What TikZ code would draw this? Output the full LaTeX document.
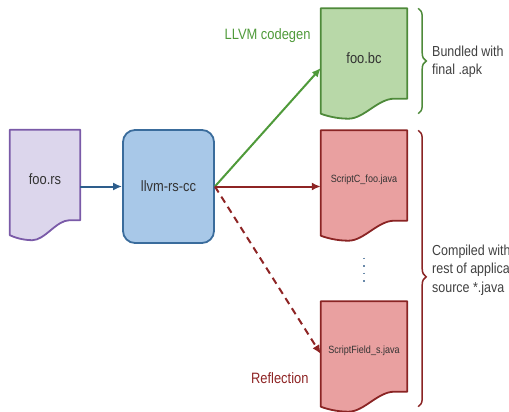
\documentclass[tikz,border=0pt]{standalone}
\usepackage{fontspec}
\setmainfont{Liberation Sans}[FakeStretch=0.86]
\usetikzlibrary{calc,arrows.meta,decorations.pathreplacing}
\definecolor{rsfill}{HTML}{DCD6EC}
\definecolor{rsline}{HTML}{7A5AA8}
\definecolor{ccfill}{HTML}{A8C8E8}
\definecolor{ccline}{HTML}{3A6C9C}
\definecolor{bcfill}{HTML}{B8D8A8}
\definecolor{bcline}{HTML}{4E8A3A}
\definecolor{javafill}{HTML}{E9A0A0}
\definecolor{javaline}{HTML}{8A2424}
\definecolor{bluearrow}{HTML}{2E5E8C}
\definecolor{greenarrow}{HTML}{4F9A3A}
\definecolor{redarrow}{HTML}{8E2424}
\definecolor{dotblue}{HTML}{6A8AAA}
\definecolor{textgray}{HTML}{333333}
\definecolor{labelgray}{HTML}{404040}
\newcommand{\javaFont}[0]{\fontsize{10.5}{12}\selectfont}
\newcommand{\docNode}[6]{%
  \node[docbox, minimum width=#3] (#1) at (#2) {};
  \filldraw[fill=#4, draw=#5, docline]
    (#1.north west) -- (#1.north east) -- ([yshift=15pt]#1.south east)
    -- ([yshift=15pt]$(#1.south west)!0.85!(#1.south east)$)
    .. controls ([yshift=15pt]$(#1.south west)!0.66!(#1.south east)$)
       and ([yshift=-5pt]$(#1.south west)!0.5!(#1.south east)$)
    .. ([yshift=-5pt]$(#1.south west)!0.32!(#1.south east)$)
    .. controls ([yshift=-5pt]$(#1.south west)!0.18!(#1.south east)$)
       and ([yshift=-2pt]$(#1.south west)!0.06!(#1.south east)$)
    .. (#1.south west) -- cycle;
  \node[doctext] (#1-text) at ([yshift=3pt]#1.center) {#6};
}

\begin{document}
\begin{tikzpicture}[x=1pt, y=-1pt, font=\fontsize{15}{18}\selectfont,
    >={Latex[length=9pt,width=8pt]}]
  \tikzset{docbox/.style={draw=none, minimum height=105pt, inner sep=0pt},
    docline/.style={line width=1.8pt, line join=round},
    doctext/.style={text=textgray, inner sep=1pt},
    compiler/.style={draw=ccline, fill=ccfill, line width=1.8pt, rounded corners=12pt,
      minimum width=91pt, minimum height=113pt, text=textgray},
    flow/.style={->, line width=2pt},
    bracket/.style={decorate, line width=1.5pt, decoration={brace, amplitude=8pt}},
    brace label/.style={anchor=west, align=left, inner sep=0pt, text=labelgray,
      font=\fontsize{14.5}{18.5}\selectfont}}
  \useasboundingbox (0,0) rectangle (509,412);

  \docNode{foors}{45,182.5}{70pt}{rsfill}{rsline}{foo.rs}
  \node[compiler] (llvm) at (168.5,186.5) {llvm-rs-cc};
  \docNode{foobc}{364,61}{86pt}{bcfill}{bcline}{foo.bc}
  \docNode{scriptc}{364,183}{86pt}{javafill}{javaline}{\javaFont ScriptC\_foo.java}
  \docNode{scriptf}{364,354}{86pt}{javafill}{javaline}{\javaFont ScriptField\_s.java}

  \draw[flow, draw=bluearrow] (foors.east |- llvm.west) -- (llvm.west);
  \draw[flow, draw=greenarrow] (llvm.east) -- ([yshift=-7pt]foobc.west);
  \draw[flow, draw=redarrow] (llvm.east) -- (scriptc.west |- llvm.east);
  \draw[flow, draw=redarrow, dash pattern=on 7pt off 5pt] (llvm.east) -- (scriptf.west);

  \node[text=greenarrow, anchor=east] (codegen) at (314,36) {LLVM codegen};
  \node[text=redarrow, anchor=east] (reflection) at (312,378) {Reflection};

  \draw[draw=dotblue, line width=1.5pt, dash pattern=on 1.5pt off 6pt]
    ([yshift=-22pt]scriptc.south) -- ([yshift=18pt]scriptf.north);

  \draw[bracket, draw=bcline] ([xshift=11pt]foobc.north east) -- ([xshift=11pt]foobc.south east);
  \draw[bracket, draw=javaline, decoration={aspect=0.53}]
    ([xshift=11pt]scriptc.north east) -- ([xshift=11pt]scriptf.south east);
  \node[brace label] (bundled) at (432,62) {Bundled with\\final .apk};
  \node[brace label] (compiled) at (432,270) {Compiled with\\rest of application\\source *.java};
\end{tikzpicture}
\end{document}
